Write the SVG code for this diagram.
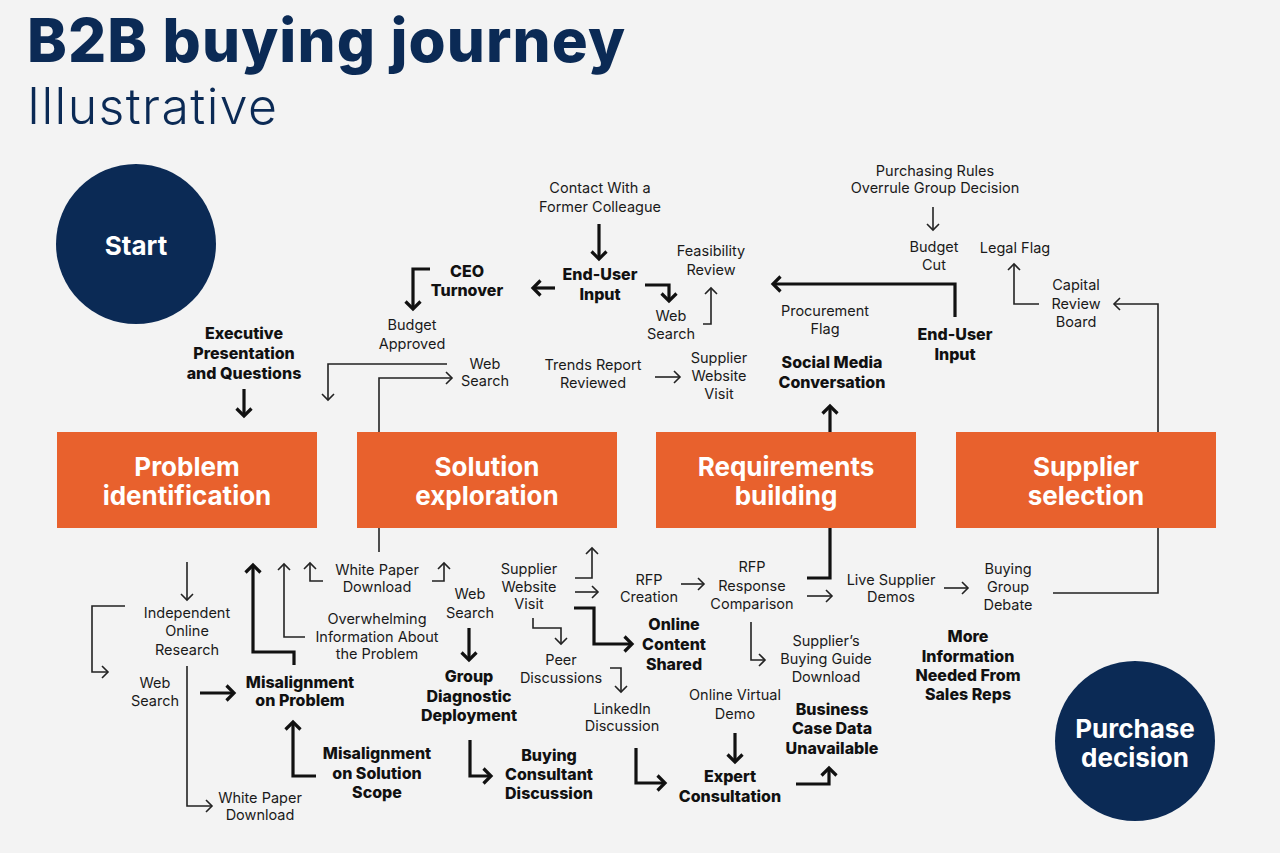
<svg xmlns="http://www.w3.org/2000/svg" width="1280" height="853" viewBox="0 0 1280 853">
<style>
.t{font-family:Inter,"Liberation Sans",sans-serif;font-size:14.5px;fill:#1a1a1a;text-anchor:middle}
.b{font-family:Inter,"Liberation Sans",sans-serif;font-size:16px;font-weight:800;fill:#111;text-anchor:middle}
.box{fill:#e8612d}
.bt{font-family:Inter,"Liberation Sans",sans-serif;font-size:26px;font-weight:700;fill:#fff;text-anchor:middle}
.circ{fill:#0b2a55}
.thin{fill:none;stroke:#222;stroke-width:1.6}
.thick{fill:none;stroke:#111;stroke-width:3.2}
</style>
<defs>
<marker id="ah" markerUnits="userSpaceOnUse" viewBox="-10 -10 20 20" markerWidth="20" markerHeight="20" refX="0" refY="0" orient="auto">
<path d="M-6,-6 L0,0 L-6,6" fill="none" stroke="#222" stroke-width="1.6"/>
</marker>
<marker id="AH" markerUnits="userSpaceOnUse" viewBox="-12 -12 24 24" markerWidth="24" markerHeight="24" refX="0" refY="0" orient="auto">
<path d="M-7.5,-7.5 L0,0 L-7.5,7.5" fill="none" stroke="#111" stroke-width="3.2"/>
</marker>
</defs>
<rect width="1280" height="853" fill="#f3f3f3"/>

<g id="title">
<text x="27" y="62" font-family="Inter,'Liberation Sans',sans-serif" font-size="60" font-weight="800" fill="#0b2a55" textLength="598">B2B buying journey</text>
<text x="27" y="124" font-family="Inter,'Liberation Sans',sans-serif" font-size="50" font-weight="300" fill="#0b2a55" textLength="250">Illustrative</text>
</g>

<g id="start"><circle class="circ" cx="136" cy="244" r="80"/><text class="bt" x="136" y="255" font-size="27">Start</text></g>
<g id="purchase-decision"><circle class="circ" cx="1135" cy="741" r="80"/><text class="bt" x="1135" y="738" font-size="27.5">Purchase</text><text class="bt" x="1135" y="767" font-size="27.5">decision</text></g>

<g id="stage-problem"><rect class="box" x="57" y="432" width="260" height="96"/><text class="bt" x="187" y="476">Problem</text><text class="bt" x="187" y="505">identification</text></g>
<g id="stage-solution"><rect class="box" x="357" y="432" width="260" height="96"/><text class="bt" x="487" y="476">Solution</text><text class="bt" x="487" y="505">exploration</text></g>
<g id="stage-requirements"><rect class="box" x="656" y="432" width="260" height="96"/><text class="bt" x="786" y="476">Requirements</text><text class="bt" x="786" y="505">building</text></g>
<g id="stage-supplier"><rect class="box" x="956" y="432" width="260" height="96"/><text class="bt" x="1086" y="476">Supplier</text><text class="bt" x="1086" y="505">selection</text></g>

<g id="connectors">
<path class="thin" d="M447,364 H328 V400" marker-end="url(#ah)"/>
<path class="thin" d="M379,432 V378 H452" marker-end="url(#ah)"/>
<path class="thin" d="M655,377 H680" marker-end="url(#ah)"/>
<path class="thin" d="M703,324 H711 V288" marker-end="url(#ah)"/>
<path class="thin" d="M933,207 V230" marker-end="url(#ah)"/>
<path class="thin" d="M1039,304 H1014 V264" marker-end="url(#ah)"/>
<path class="thin" d="M1158,432 V304 H1114" marker-end="url(#ah)"/>
<path class="thin" d="M379,528 V552"/>
<path class="thin" d="M323,581 H310 V563" marker-end="url(#ah)"/>
<path class="thin" d="M432,581 H444 V563" marker-end="url(#ah)"/>
<path class="thin" d="M305,637 H284 V564" marker-end="url(#ah)"/>
<path class="thin" d="M187,562 V600" marker-end="url(#ah)"/>
<path class="thin" d="M125,606 H92 V672 H108" marker-end="url(#ah)"/>
<path class="thin" d="M187,666 V806 H212" marker-end="url(#ah)"/>
<path class="thin" d="M575,578 H592 V548" marker-end="url(#ah)"/>
<path class="thin" d="M575,592 H598" marker-end="url(#ah)"/>
<path class="thin" d="M533,618 V628 H561 V644" marker-end="url(#ah)"/>
<path class="thin" d="M610,668 H621 V692" marker-end="url(#ah)"/>
<path class="thin" d="M681,584 H704" marker-end="url(#ah)"/>
<path class="thin" d="M807,596 H832" marker-end="url(#ah)"/>
<path class="thin" d="M751,622 V660 H765" marker-end="url(#ah)"/>
<path class="thin" d="M944,588 H968" marker-end="url(#ah)"/>
<path class="thin" d="M1053,593 H1158 V528"/>

<path class="thick" d="M599,224 V259" marker-end="url(#AH)"/>
<path class="thick" d="M555,288 H533" marker-end="url(#AH)"/>
<path class="thick" d="M645,285 H669 V301" marker-end="url(#AH)"/>
<path class="thick" d="M430,269 H413 V309" marker-end="url(#AH)"/>
<path class="thick" d="M244,389 V416" marker-end="url(#AH)"/>
<path class="thick" d="M955,317 V284 H773" marker-end="url(#AH)"/>
<path class="thick" d="M830,432 V406" marker-end="url(#AH)"/>
<path class="thick" d="M294,665 V652 H253 V565" marker-end="url(#AH)"/>
<path class="thick" d="M200,693 H234" marker-end="url(#AH)"/>
<path class="thick" d="M316,776 H293 V722" marker-end="url(#AH)"/>
<path class="thick" d="M469,628 V660" marker-end="url(#AH)"/>
<path class="thick" d="M470,740 V776 H491" marker-end="url(#AH)"/>
<path class="thick" d="M574,608 H594 V644 H632" marker-end="url(#AH)"/>
<path class="thick" d="M636,748 V783 H665" marker-end="url(#AH)"/>
<path class="thick" d="M735,733 V762" marker-end="url(#AH)"/>
<path class="thick" d="M796,784 H829 V768" marker-end="url(#AH)"/>
<path class="thick" d="M830,528 V578 H807"/>
</g>

<g id="n-contact"><text class="t" x="600" y="193">Contact With a</text><text class="t" x="600" y="212">Former Colleague</text></g>
<g id="n-feasibility"><text class="t" x="711" y="256">Feasibility</text><text class="t" x="711" y="275">Review</text></g>
<g id="n-websearch1"><text class="t" x="671" y="321">Web</text><text class="t" x="671" y="339">Search</text></g>
<g id="n-budget-approved"><text class="t" x="412" y="330">Budget</text><text class="t" x="412" y="349">Approved</text></g>
<g id="n-websearch2"><text class="t" x="485" y="369">Web</text><text class="t" x="485" y="386">Search</text></g>
<g id="n-trends"><text class="t" x="593" y="370">Trends Report</text><text class="t" x="593" y="388">Reviewed</text></g>
<g id="n-supplier-visit1"><text class="t" x="719" y="363">Supplier</text><text class="t" x="719" y="381">Website</text><text class="t" x="719" y="399">Visit</text></g>
<g id="n-purchasing-rules"><text class="t" x="935" y="176">Purchasing Rules</text><text class="t" x="935" y="193">Overrule Group Decision</text></g>
<g id="n-budget-cut"><text class="t" x="934" y="252">Budget</text><text class="t" x="934" y="270">Cut</text></g>
<g id="n-legal"><text class="t" x="1015" y="253">Legal Flag</text></g>
<g id="n-capital"><text class="t" x="1076" y="290">Capital</text><text class="t" x="1076" y="309">Review</text><text class="t" x="1076" y="327">Board</text></g>
<g id="n-procurement"><text class="t" x="825" y="316">Procurement</text><text class="t" x="825" y="334">Flag</text></g>
<g id="n-whitepaper1"><text class="t" x="377" y="575">White Paper</text><text class="t" x="377" y="592">Download</text></g>
<g id="n-overwhelming"><text class="t" x="377" y="624">Overwhelming</text><text class="t" x="377" y="642">Information About</text><text class="t" x="377" y="659">the Problem</text></g>
<g id="n-independent"><text class="t" x="187" y="618">Independent</text><text class="t" x="187" y="636">Online</text><text class="t" x="187" y="655">Research</text></g>
<g id="n-websearch3"><text class="t" x="155" y="688">Web</text><text class="t" x="155" y="706">Search</text></g>
<g id="n-whitepaper2"><text class="t" x="260" y="803">White Paper</text><text class="t" x="260" y="820">Download</text></g>
<g id="n-websearch4"><text class="t" x="470" y="599">Web</text><text class="t" x="470" y="618">Search</text></g>
<g id="n-supplier-visit2"><text class="t" x="529" y="574">Supplier</text><text class="t" x="529" y="592">Website</text><text class="t" x="529" y="609">Visit</text></g>
<g id="n-rfp-creation"><text class="t" x="649" y="585">RFP</text><text class="t" x="649" y="602">Creation</text></g>
<g id="n-peer"><text class="t" x="561" y="665">Peer</text><text class="t" x="561" y="683">Discussions</text></g>
<g id="n-linkedin"><text class="t" x="622" y="714">LinkedIn</text><text class="t" x="622" y="731">Discussion</text></g>
<g id="n-virtual-demo"><text class="t" x="735" y="700">Online Virtual</text><text class="t" x="735" y="719">Demo</text></g>
<g id="n-rfp-response"><text class="t" x="752" y="572">RFP</text><text class="t" x="752" y="591">Response</text><text class="t" x="752" y="609">Comparison</text></g>
<g id="n-buying-guide"><text class="t" x="826" y="646">Supplier’s</text><text class="t" x="826" y="664">Buying Guide</text><text class="t" x="826" y="682">Download</text></g>
<g id="n-live-demos"><text class="t" x="891" y="585">Live Supplier</text><text class="t" x="891" y="602">Demos</text></g>
<g id="n-buying-debate"><text class="t" x="1008" y="574">Buying</text><text class="t" x="1008" y="592">Group</text><text class="t" x="1008" y="610">Debate</text></g>

<g id="n-enduser1"><text class="b" x="600" y="280">End-User</text><text class="b" x="600" y="300">Input</text></g>
<g id="n-ceo"><text class="b" x="467" y="277">CEO</text><text class="b" x="467" y="296">Turnover</text></g>
<g id="n-executive"><text class="b" x="244" y="339">Executive</text><text class="b" x="244" y="359">Presentation</text><text class="b" x="244" y="379">and Questions</text></g>
<g id="n-enduser2"><text class="b" x="955" y="340">End-User</text><text class="b" x="955" y="360">Input</text></g>
<g id="n-social"><text class="b" x="832" y="368">Social Media</text><text class="b" x="832" y="388">Conversation</text></g>
<g id="n-misalign-problem"><text class="b" x="300" y="688">Misalignment</text><text class="b" x="300" y="706">on Problem</text></g>
<g id="n-misalign-scope"><text class="b" x="377" y="759">Misalignment</text><text class="b" x="377" y="779">on Solution</text><text class="b" x="377" y="798">Scope</text></g>
<g id="n-group-diag"><text class="b" x="469" y="682">Group</text><text class="b" x="469" y="702">Diagnostic</text><text class="b" x="469" y="721">Deployment</text></g>
<g id="n-buying-consultant"><text class="b" x="549" y="761">Buying</text><text class="b" x="549" y="780">Consultant</text><text class="b" x="549" y="799">Discussion</text></g>
<g id="n-online-content"><text class="b" x="674" y="630">Online</text><text class="b" x="674" y="650">Content</text><text class="b" x="674" y="670">Shared</text></g>
<g id="n-business-case"><text class="b" x="832" y="715">Business</text><text class="b" x="832" y="734">Case Data</text><text class="b" x="832" y="754">Unavailable</text></g>
<g id="n-expert"><text class="b" x="730" y="782">Expert</text><text class="b" x="730" y="802">Consultation</text></g>
<g id="n-more-info"><text class="b" x="968" y="642">More</text><text class="b" x="968" y="662">Information</text><text class="b" x="968" y="681">Needed From</text><text class="b" x="968" y="700">Sales Reps</text></g>
</svg>
